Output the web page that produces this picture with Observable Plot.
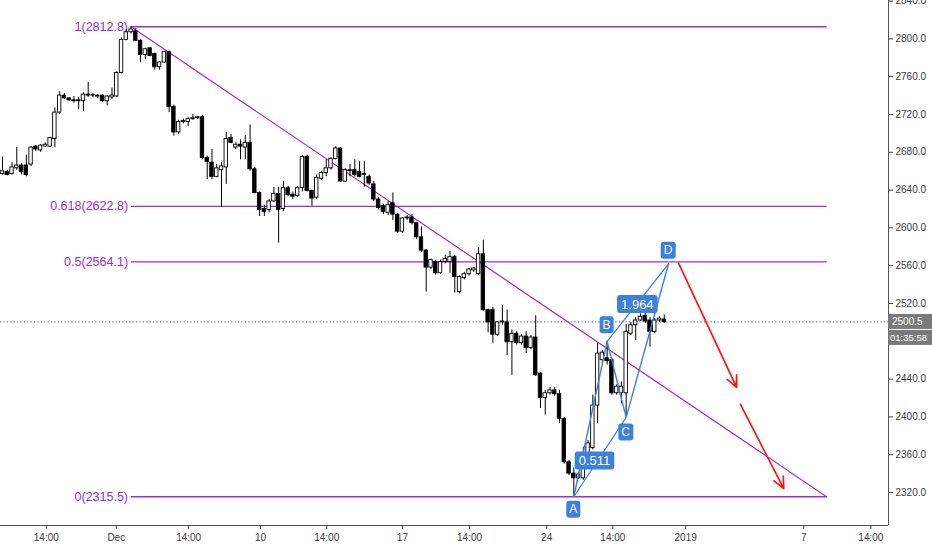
<!DOCTYPE html>
<html><head><meta charset="utf-8">
<script src="https://cdn.jsdelivr.net/npm/d3@7"></script>
<script src="https://cdn.jsdelivr.net/npm/@observablehq/plot@0.6"></script>
<style>
html,body{margin:0;padding:0;background:#fff;}
#chart{width:932px;height:550px;overflow:hidden;}
</style></head><body><div id="chart"></div>
<script>
// 4-hour candles (bar index 0..139)
const opens = [2657,2659,2657,2663,2666,2666,2667,2686,2682,2686,
2686,2694,2722,2740,2737,2735,2734,2734,2741,2740,
2740,2740,2734,2738,2739,2764,2799,2807,2808,2798,
2783,2790,2784,2770,2775,2786,2728,2701,2712,2712,
2715,2716,2717,2674,2669,2654,2661,2664,2695,2685,
2688,2685,2690,2662,2637,2620,2619,2628,2636,2620,
2642,2635,2634,2642,2675,2639,2632,2652,2658,2663,
2673,2684,2649,2661,2661,2659,2656,2654,2646,2630,
2623,2616,2626,2614,2596,2610,2611,2605,2590,2576,
2558,2564,2552,2564,2564,2569,2532,2547,2551,2555,
2551,2572,2513,2513,2487,2500,2500,2479,2488,2478,
2485,2473,2484,2446,2420,2425,2428,2424,2398,2352,
2340,2335,2335,2354,2367,2412,2460,2462,2460,2425,2425,2425,
2488,2497,2502,2507,2502,2490,2502,2503];
const highs = [2675,2661,2669,2685,2668,2677,2686,2687,2688,2690,
2696,2727,2744,2742,2738,2739,2738,2743,2754,2742,
2741,2741,2740,2748,2765,2801,2810,2812.8,2811,2799,
2790,2791,2785,2776,2787,2787,2730,2714,2715,2717,
2720,2718,2719,2676,2683,2667,2669,2701,2699,2690,
2693,2698,2709,2664,2638,2624,2630,2643,2643,2649,
2644,2638,2644,2677,2677,2640,2656,2660,2672,2674,
2686,2685,2663,2667,2672,2670,2670,2656,2649,2632,
2625,2628,2637,2615,2611,2613,2614,2606,2601,2577,
2567,2566,2566,2571,2575,2571,2549,2553,2557,2558,
2579,2587,2514,2516,2501,2518,2513,2492,2490,2487,
2490,2486,2507,2447,2428,2431,2431,2428,2399,2354,
2346,2341,2368,2375,2423,2478,2470,2480,2462,2434,2437,2498,
2500,2505,2509,2510,2505,2504,2506,2508];
const lows = [2656,2655,2656,2661,2656,2654,2665,2681,2680,2685,
2685,2685,2720,2736,2734,2732,2725,2723,2738,2738,
2737,2733,2729,2736,2738,2763,2798,2805,2797,2775,
2778,2781,2767,2767,2774,2722,2697,2699,2710,2707,
2714,2715,2672,2651,2651,2653,2622,2646,2689,2683,
2672,2672,2660,2636,2612,2612,2616,2627,2584,2617,
2633,2630,2632,2638,2638,2623,2630,2650,2654,2661,
2672,2648,2648,2654,2654,2653,2643,2645,2628,2619,
2614,2613,2608,2594,2594,2608,2603,2588,2574,2532,
2556,2550,2551,2562,2552,2531,2530,2545,2549,2553,
2550,2512,2489,2478,2485,2497,2465,2444,2476,2476,
2467,2471,2443,2409,2402,2423,2422,2393,2350,2338,
2315.5,2334,2333,2352,2365,2393,2456,2455,2423,2423,2414,2399.5,
2486,2481,2501,2499,2474,2488,2500,2499];
const closes = [2660,2656,2664,2666,2659,2656,2685,2683,2687,2688,
2695,2722,2740,2737,2735,2734,2735,2741,2740,2740.5,
2739,2734,2739,2740,2764,2799,2807,2810,2798,2783,
2789,2782,2770,2775,2786,2728,2701,2712,2713,2715,
2716,2717,2674,2670,2654,2663,2665,2694,2690,2688,
2686,2690,2662,2637,2619,2617,2628,2636,2619,2642,
2635,2633,2642,2675,2639,2631,2653,2658,2663,2673,
2684,2649,2661,2660,2656,2654,2657,2647,2630,2621,
2617,2624,2614,2596,2610,2611,2605,2590,2576,2558,
2566,2552,2564,2567,2569,2548,2548,2551,2556,2557,
2572,2513,2500,2487,2500,2501,2479,2488,2478,2485,
2473,2484,2444,2420,2425,2428,2424,2398,2352,2340,
2335,2339,2354,2372,2412,2467,2468,2459,2425,2432,2432,2490,
2497,2502,2506,2501,2490,2502,2504,2500.5];

// axis ticks (2480 sits under the price / countdown boxes in the reference)
const xTickIdx = [9.2, 23.9, 39.1, 54.2, 68.1, 84.0, 98.1, 114.3, 128.2, 143.5, 168.3, 182.4];
const xTickLabels = ["14:00","Dec","14:00","10","14:00","17","14:00","24","14:00","2019","7","14:00"];
const yTicks = [2320,2360,2400,2440,2520,2560,2600,2640,2680,2720,2760,2800,2840];

// Fibonacci retracement
const fibRatios = ["1","0.618","0.5","0"];
const fibPrices = [2812.8, 2622.8, 2564.1, 2315.5];
const fibFromIdx = 27, fibToIdx = 173.1;

// trend line
const trendIdx = [27, 173.1];
const trendPrice = [2812.8, 2315.5];

// ABCD pattern
const patternNames = ["A","B","C","D"];
const patternIdx = [120, 127, 131, 139.9];
const patternPrice = [2315.5, 2480, 2399.5, 2562];
const ratioLabels = ["0.511","1.964"]; // A–C, B–D

// projected arrows
const arrowFromIdx = [142.0, 155.0];
const arrowFromPrice = [2562.8, 2413.3];
const arrowToIdx = [154.2, 164.1];
const arrowToPrice = [2431.3, 2324.2];

const lastPrice = 2500.5;
const countdown = "01:35:58";

const purple = "#9c2bd8", blue = "#3d80dd", red = "#ff1414";

const candles = opens.map((o, i) => ({i, open: o, high: highs[i], low: lows[i], close: closes[i]}));
const fibRows = fibPrices.map((p, k) => ({p, label: `${fibRatios[k]}(${p.toFixed(1)})`, x1: fibFromIdx, x2: fibToIdx}));
const trendRows = trendIdx.map((x, k) => ({x, y: trendPrice[k]}));
const pts = patternIdx.map((x, k) => ({x, y: patternPrice[k], name: patternNames[k]}));
const diag = [{a: pts[0], b: pts[2]}, {a: pts[1], b: pts[3]}];
const arrows = arrowFromIdx.map((x, k) => ({x1: x, y1: arrowFromPrice[k], x2: arrowToIdx[k], y2: arrowToPrice[k]}));
const tickLabel = new Map(xTickIdx.map((d, k) => [d, xTickLabels[k]]));
const xDomain = [-0.42, 186.1], yDomain = [2285.1, 2840.6];

const chart = Plot.plot({
  width: 932, height: 550,
  marginLeft: 0, marginRight: 44, marginTop: 0, marginBottom: 25,
  style: {fontFamily: "'Liberation Sans', Arial, sans-serif", fontSize: "10px", color: "#3a3a3a", background: "#fff"},
  x: {domain: xDomain, axis: null},
  y: {domain: yDomain, axis: null},
  marks: [
    Plot.ruleY([lastPrice], {stroke: "#555", strokeDasharray: "1.2,2.2", strokeWidth: 1}),
    Plot.link(fibRows, {x1: "x1", x2: "x2", y1: "p", y2: "p", stroke: purple, strokeWidth: 1.3}),
    Plot.text(fibRows, {x: "x1", y: "p", text: "label", textAnchor: "end", dx: -3, fill: purple, fontSize: 12.5}),
    Plot.line(trendRows, {x: "x", y: "y", stroke: purple, strokeWidth: 1.2}),
    Plot.ruleX(candles, {x: "i", y1: "low", y2: "high", stroke: "#000", strokeWidth: 1}),
    Plot.rect(candles, {x1: d => d.i - 0.36, x2: d => d.i + 0.36, y1: "open", y2: "close",
      fill: d => d.close >= d.open ? "#fff" : "#000", stroke: "#000", strokeWidth: 0.9}),
    Plot.line(pts, {x: "x", y: "y", stroke: blue, strokeWidth: 1.4}),
    Plot.link(diag, {x1: d => d.a.x, y1: d => d.a.y, x2: d => d.b.x, y2: d => d.b.y, stroke: blue, strokeWidth: 1.2}),
    Plot.arrow(arrows, {x1: "x1", y1: "y1", x2: "x2", y2: "y2", stroke: red, strokeWidth: 1.7, headLength: 11, headAngle: 50}),
    Plot.ruleY([yDomain[0]], {stroke: "#555", strokeWidth: 1}),
    Plot.ruleX([xDomain[1]], {stroke: "#555", strokeWidth: 1}),
    Plot.axisY({anchor: "right", ticks: yTicks, tickFormat: d => d.toFixed(1), tickSize: 4, tickPadding: 3, fontSize: 10}),
    Plot.axisX({anchor: "bottom", ticks: xTickIdx, tickFormat: d => tickLabel.get(d), tickSize: 4, tickPadding: 4, fontSize: 10})
  ]
});
document.getElementById("chart").appendChild(chart);

// label boxes drawn with the plot's own scales
const xs = chart.scale("x"), ys = chart.scale("y");
const svg = d3.select(chart);
function box(cx, cy, label, opt) {
  const g = svg.append("g");
  const t = g.append("text").attr("x", cx).attr("y", cy)
    .attr("text-anchor", opt.anchor || "middle").attr("dominant-baseline", "central")
    .attr("fill", "#fff").attr("font-size", opt.fs).attr("font-family", "'Liberation Sans', Arial, sans-serif")
    .text(label);
  const bb = t.node().getBBox();
  const x0 = opt.x0 !== undefined ? opt.x0 : bb.x - opt.px;
  const w = opt.w !== undefined ? opt.w : bb.width + 2 * opt.px;
  g.insert("rect", "text").attr("x", x0).attr("y", cy - opt.h / 2).attr("width", w).attr("height", opt.h)
    .attr("rx", opt.rx).attr("fill", opt.bg);
}
const letterDy = [13, -16, 15, -13];
pts.forEach((p, k) => box(xs.apply(p.x), ys.apply(p.y) + letterDy[k], p.name, {fs: 12, px: 3, h: 17, rx: 3, bg: blue}));
diag.forEach((d, k) => {
  const mx = (xs.apply(d.a.x) + xs.apply(d.b.x)) / 2 + (k === 0 ? -5 : 0);
  const my = (ys.apply(d.a.y) + ys.apply(d.b.y)) / 2 + (k === 0 ? 4 : 2);
  box(mx, my, ratioLabels[k], {fs: 13, px: 4, h: 18, rx: 3, bg: blue});
});
const xr = xs.range[1];
const yl = ys.apply(lastPrice);
box(xr + 4, yl, lastPrice.toFixed(1), {anchor: "start", fs: 10, x0: xr, w: 932 - xr, h: 15, rx: 0, bg: "#7a7a7a"});
box(xr + 2, yl + 16, countdown, {anchor: "start", fs: 9.5, x0: xr, w: 932 - xr, h: 15, rx: 0, bg: "#7a7a7a"});
</script>
</body></html>
